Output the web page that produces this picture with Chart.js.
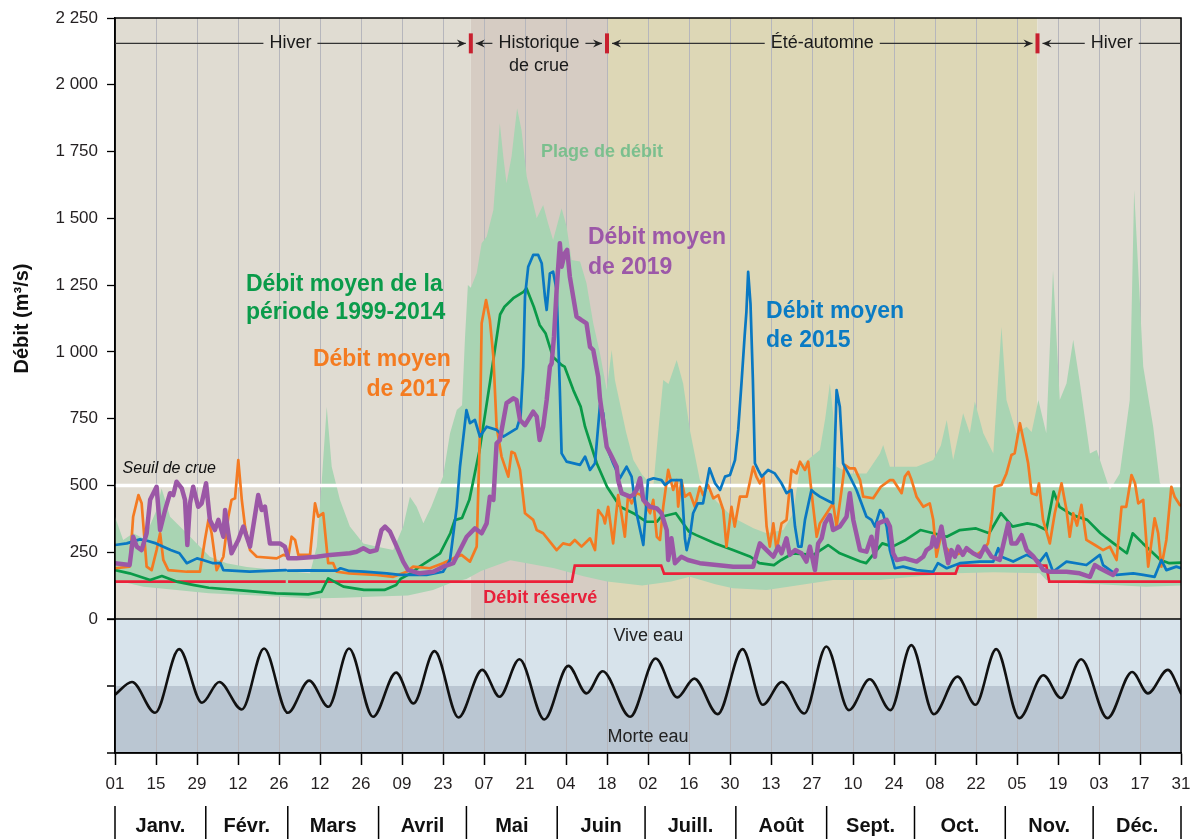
<!DOCTYPE html>
<html lang="fr">
<head>
<meta charset="utf-8">
<title>Débit</title>
<script src="https://cdn.jsdelivr.net/npm/chart.js@4.4.1/dist/chart.umd.min.js"></script>
<style>
  html, body { margin: 0; padding: 0; background: #fff; }
  canvas { display: block; }
</style>
</head>
<body>
<canvas id="debit" width="1192" height="839"></canvas>
<script>
// --- axes ---
const tickLabels = ['01','15','29','12','26','12','26','09','23','07','21','04','18','02','16','30','13','27','10','24','08','22','05','19','03','17','31'];
const tickDays = tickLabels.map((_, i) => i * 14);
const monthNames = ['Janv.','Févr.','Mars','Avril','Mai','Juin','Juill.','Août','Sept.','Oct.','Nov.','Déc.'];
const monthStarts = [0, 31, 59, 90, 120, 151, 181, 212, 243, 273, 304, 334, 365];
const yTicks = [0, 250, 500, 750, 1000, 1250, 1500, 1750, 2000, 2250];

// --- saisons ---
const seasonNames = [['Hiver'], ['Historique', 'de crue'], ['Été-automne'], ['Hiver']];
const seasonBounds = [0, 121.5, 168, 315, 364];

// --- séries [jour de l'année, m³/s] ---
const seuilCrue = [[0, 500], [364, 500]];

const debitReserve = [[0,140],[58.3,140],[58.7,null],[59.1,140],[156,140],[157,200],[186.5,200],[187.5,170],
  [287,170],[288,200],[318,200],[319,140],[364,140]];

const moyenne1999_2014 = [[0,183],[5,171],[12,146],[16,161],[21,140],[27,127],[32,117],[44,106],[55,96],[66,92],
  [70.5,102],[72.8,152],[78,121],[85,109],[92,109],[96,127],[97.5,150],[101,171],[104,196],[111,246],
  [114.5,321],[116,370],[118.5,378],[121,446],[124.5,633],[128,883],[131.5,1140],[133,1169],[136,1201],[139.5,1225],
  [140.5,1238],[143,1169],[145,1101],[147,1070],[149.5,982],[152.5,951],[153.5,945],[156.5,857],[159,795],[160.5,720],
  [164.5,583],[168,495],[172.5,420],[177,396],[181.5,364],[185,364],[186.5,383],[191.5,396],[196,327],[198.5,314],
  [205,283],[211,258],[217,233],[220,209],[225,202],[227.5,221],[231.5,246],[238.5,240],[243.5,277],[247.5,246],
  [254.5,215],[256.5,209],[262,283],[265.5,271],[270,296],[275,333],[279.5,321],[284,308],[288.5,333],[294,339],
  [298.5,321],[302.5,396],[306.5,346],[311.5,358],[314.5,352],[318,333],[320.5,477],[322.5,420],[327,389],[332,371],
  [336.5,321],[341,283],[345.5,246],[347.5,321],[351,283],[357,221],[360,209],[364,211]];

const moyenne2015 = [[0,277],[4,283],[8.5,298],[11,293],[14,283],[19,258],[22,246],[24.5,209],[28,227],[30,221],
  [33.5,209],[36,209],[37,183],[46,177],[52,180],[58.3,183],[58.7,null],[59.1,181],[66,182],[75.7,181],[77,190],
  [80,180],[85,177],[92.8,171],[97.3,165],[100.7,165],[106.4,165],[112,177],[114.4,221],[116.7,420],[117.8,570],
  [120,782],[121.2,733],[122.9,745],[124.6,683],[126.9,720],[130.3,708],[132.6,683],[137.2,714],[138.5,760],[139.4,945],
  [140,1207],[141.1,1319],[142.8,1363],[144.5,1363],[145.7,1332],[146.8,1207],[147.4,1157],[148.5,1294],[149.6,1300],
  [150.8,1232],[151.9,857],[152.5,620],[154.2,589],[158.8,577],[160.5,608],[162.2,558],[163.9,583],[165.6,801],
  [166.7,770],[167.9,645],[170.1,583],[172.4,527],[174.7,570],[176.4,533],[178.1,396],[180.4,277],[182,520],
  [183.9,527],[186.6,520],[187.8,502],[190,520],[193.4,520],[194.6,302],[195.2,258],[196.3,308],[197.4,396],[199,433],
  [200.8,433],[203,564],[204.9,508],[206.6,483],[208.3,533],[210,539],[211.7,595],[212.8,708],[214,895],[215,1060],
  [215.6,1150],[216.2,1300],[217,1180],[217.8,900],[218.5,583],[219.6,558],[220.8,533],[223,558],[225.3,545],
  [227.6,508],[229.3,471],[231,483],[232.2,346],[233.3,271],[234.4,271],[235.6,371],[237.8,483],[239,471],[240.7,458],
  [244.1,439],[245.2,433],[246.4,857],[247.5,795],[248.6,583],[250.4,545],[253.2,483],[256.6,383],[258.3,371],
  [259.5,346],[261.2,408],[262.2,396],[263.5,346],[264.6,258],[266.3,190],[269.1,196],[273.7,183],[279.4,177],[281,209],
  [284,190],[288.5,209],[295.3,215],[299.9,215],[301.6,265],[302.7,233],[306.7,215],[311.3,240],[315.8,215],[318,246],
  [320.3,177],[324.9,215],[331.7,202],[336.3,240],[337.4,202],[342,165],[347.7,171],[351.1,165],[355,158],[357.3,221],
  [359,183],[362.4,196],[364,190]];

const moyenne2017 = [[0,190],[5,196],[6.2,383],[8,464],[9.1,433],[10.8,196],[12.5,183],[14.2,258],[15.4,321],[16.5,221],
  [18.2,183],[24.5,177],[29,177],[30.7,296],[31.9,371],[33,321],[34.7,183],[37,233],[38.7,383],[39.8,446],[41,452],
  [42.1,595],[43.3,446],[44.4,346],[46.1,258],[48.4,233],[55.2,227],[57.5,240],[59.2,235],[60.3,308],[61.5,296],
  [62.6,240],[66.6,240],[68.3,433],[69.4,383],[71.1,396],[72.8,209],[74.5,209],[75.7,177],[80,171],[89.3,165],[95,158],
  [99.6,177],[101.8,196],[107.5,190],[112,209],[115.5,227],[118.3,240],[121.2,215],[123.5,271],[124.6,695],[125.2,1107],
  [126.7,1194],[128,1119],[129.2,982],[130.3,720],[132,608],[134.3,533],[135.4,626],[136.5,620],[138.3,558],[140,396],
  [142.8,371],[144,333],[146.2,321],[150.8,258],[153,283],[155.3,277],[157,296],[159.3,271],[162.2,302],[163.9,258],
  [165,408],[166.7,383],[167.3,358],[168.4,420],[170.1,283],[171.8,464],[172.9,396],[174.1,308],[175.2,464],[176.4,433],
  [178.1,471],[179.5,465],[181.5,420],[182.7,396],[183.8,446],[185,308],[186.1,296],[187.2,420],[188.9,558],[190.6,483],
  [191.8,520],[192.3,421],[193.4,520],[194.6,458],[196.3,471],[198,420],[199.7,495],[200.8,464],[202.5,502],[204.3,452],
  [206,464],[207.7,408],[208.8,271],[210.5,420],[211.6,346],[213.4,458],[215.7,458],[217.9,570],[219,533],[220.2,508],
  [221.4,533],[222.5,346],[223.6,271],[224.8,358],[225.9,258],[227.6,358],[229.3,371],[231,558],[232.7,545],[233.9,589],
  [235.6,558],[236.7,589],[238.4,420],[239.6,308],[240.7,358],[243,396],[245.2,433],[246.4,346],[248.1,483],[249.2,577],
  [250.9,564],[252.6,564],[254.4,520],[255.5,458],[258.9,452],[261.5,495],[264.6,520],[265.7,520],[268.6,471],
  [269.7,533],[270.9,551],[272,520],[273.7,458],[276,420],[278.2,433],[279.4,371],[280.5,233],[282.2,321],[283.4,271],
  [285,252],[287.3,240],[290.7,258],[294.2,240],[296.4,258],[298.1,283],[299.3,371],[300.4,495],[302.7,502],[304.4,545],
  [306.1,614],[307.2,620],[309,733],[310.7,645],[311.8,583],[313,471],[314.7,464],[315.5,508],[316.9,371],[319.2,283],
  [320.9,396],[323.2,508],[324.9,408],[326,308],[327.2,396],[328.5,350],[330,427],[331.7,296],[334.6,277],[337.4,258],
  [339.7,271],[342,221],[343.7,420],[345.3,420],[347.1,539],[348.3,508],[349.4,433],[351.1,446],[352.8,196],[355,377],
  [356.2,321],[357.3,196],[359,296],[360.7,495],[361.8,458],[363.6,427],[364,425]];

const moyenne2019 = [[0,209],[5,202],[6.2,308],[7.4,271],[9.1,258],[10.8,321],[12,446],[14.2,495],[15.4,333],[17.1,408],
  [18.8,471],[19.9,464],[21,514],[22.8,489],[23.9,446],[24.7,277],[25.6,433],[26.7,495],[28.4,420],[29.6,433],[31.1,508],
  [32.4,371],[34.1,333],[35.3,371],[37,308],[37.6,408],[38.7,321],[39.8,246],[42.1,296],[43.8,346],[46.1,271],[48.9,464],
  [50.1,408],[51.2,421],[52.9,283],[56.3,283],[58,271],[59.2,227],[62,227],[68.9,233],[73.4,240],[80.2,246],[82.5,252],
  [84.8,265],[87,252],[89.3,258],[91,333],[92.2,346],[93.9,327],[96.2,271],[98.4,215],[100.1,183],[104.1,171],
  [108.7,177],[112.1,196],[115.5,209],[117.8,258],[120.1,308],[122.9,339],[125.2,321],[126.9,358],[128,458],[129.2,446],
  [130.3,658],[131.4,670],[133.7,808],[136,826],[137.1,820],[138.3,745],[140,726],[142.8,776],[144,758],[145,670],
  [146.2,720],[147.4,820],[148.5,945],[149.1,957],[149.9,1057],[150.8,1232],[151.9,1407],[152.5,1319],[153.6,1369],
  [154.4,1382],[155.3,1282],[157.6,1132],[159.3,1119],[161,1107],[162.2,1019],[163.3,1007],[165,907],[165.6,826],
  [167.9,645],[169.6,608],[171.3,570],[171.8,520],[173,471],[175.8,458],[176.9,464],[178.1,483],[179.3,527],[180.4,446],
  [182.7,420],[185,414],[186.6,396],[188.4,333],[188.9,221],[190,302],[191.2,209],[193.4,233],[195.6,221],[199.7,209],
  [205.4,202],[211.1,196],[217.9,196],[220.2,283],[222.5,258],[224.8,233],[226.5,271],[227.6,246],[229.3,302],
  [230.4,240],[232.2,258],[234.4,246],[236.1,215],[237.3,271],[239,183],[240.1,283],[241.3,302],[242.4,358],[244.1,389],
  [245.2,333],[247.5,346],[249.8,383],[250.9,471],[252.1,371],[254.4,258],[256.6,252],[258.3,308],[259.5,233],
  [260.6,358],[263.5,371],[264.6,346],[265.7,246],[266.9,221],[269.7,227],[273.7,215],[276,233],[277.1,258],[278.8,271],
  [279.4,308],[280.5,271],[282.2,346],[283.4,271],[284.5,209],[285.6,258],[286.8,233],[287.9,271],[289.5,240],
  [290.8,265],[293,246],[295.3,233],[297,271],[299.3,233],[302.1,221],[305,358],[306.1,283],[307.8,283],[309.6,314],
  [311.3,258],[313.5,235],[315.8,202],[317,183],[319.2,177],[324.9,177],[329.4,171],[332.9,158],[334.6,202],[336.3,190],
  [338.6,177],[340.8,165],[342,183]];

const plageMax = [[0,383],[2.8,296],[6.2,321],[10,300],[14.2,408],[15.9,489],[17,450],[18.8,383],[24.5,321],[27.9,283],
  [32.4,233],[38.1,209],[45,195],[55,183],[66.6,171],[68.9,271],[70.5,500],[72.3,795],[74,570],[76.8,446],[80.2,346],
  [84.8,283],[90,270],[95,258],[98.4,346],[100.7,458],[103,420],[105.3,358],[108,420],[112,533],[114.4,695],[116.7,782],
  [118.5,800],[119.5,1050],[120.5,1250],[121.5,1240],[123.5,1294],[125.2,1407],[126.9,1431],[129.2,1531],[131.4,1856],
  [132.6,1731],[133.7,1631],[135.4,1731],[137.3,1912],[138.8,1831],[140.6,1656],[142.8,1556],[144,1500],[146.2,1550],
  [147.9,1481],[149.6,1419],[152.5,1538],[154.2,1469],[155.9,1344],[158.8,1338],[161,1257],[163.3,1107],[165.6,995],
  [167.9,857],[169.6,1007],[170.7,895],[172.4,808],[174.5,700],[177,595],[180,540],[183.8,495],[185.5,700],[187.2,895],
  [189,880],[191.8,970],[194,882],[196.3,708],[199.7,520],[205.4,440],[211,380],[218,340],[222.5,321],[228.2,333],
  [231.6,396],[233.9,570],[237,600],[240.7,633],[242.5,750],[244.1,882],[245.2,770],[246.4,570],[251,545],[256.6,545],
  [261.2,620],[262.3,651],[264.6,570],[268,570],[273.7,570],[279.4,595],[282,650],[284,745],[286.2,595],[289.6,770],
  [291.9,695],[293.6,814],[296.5,695],[299.9,620],[302.7,1094],[304.4,820],[307.8,695],[311.3,720],[313,700],[315.3,820],
  [318,695],[320.3,1307],[322.6,820],[324.9,882],[327.2,1045],[329.5,882],[332.9,620],[335.2,633],[339.7,483],[343.1,545],
  [346.5,820],[348,1606],[351.1,945],[354.5,720],[356.8,508],[359,495],[362.4,495],[364,500]];

const plageMin = [[0,146],[9.7,121],[21,109],[32,96],[45,90],[55,84],[66.6,77],[78,80],[89.3,84],[100,88],[108.6,109],
  [114.4,134],[120,150],[125,180],[135,220],[150,190],[160,160],[168,140],[180,125],[190,140],[196.3,158],[205,130],
  [211,115],[222.5,109],[233.9,127],[245.2,146],[256.6,146],[261,146],[272.6,158],[287,171],[300,175],[315.8,171],
  [318,146],[329.5,134],[340.8,127],[352,121],[364,125]];

// marée : coefficient relatif (-1 morte eau, +1 vive eau)
const maree = [[0,-0.13],[5.8,0.06],[13.7,-0.40],[21.9,0.55],[29.7,-0.25],[35.6,0.06],[43.3,-0.35],[50.9,0.56],
  [59,-0.40],[66.3,0.08],[72.9,-0.31],[79.9,0.56],[88.1,-0.46],[96,0.20],[101.9,-0.26],[109.1,0.52],[117.3,-0.47],
  [125.4,0.24],[131.3,-0.16],[138.1,0.40],[146.6,-0.50],[154.8,0.30],[161,-0.11],[166.5,0.22],[175.9,-0.46],
  [184.6,0.41],[192,-0.17],[197.8,0.11],[205.8,-0.42],[214.3,0.55],[221.2,-0.28],[227.7,0.06],[235.4,-0.41],
  [242.9,0.59],[250.6,-0.36],[257.7,0.10],[264.8,-0.36],[271.9,0.61],[279.6,-0.42],[287.7,0.14],[293.8,-0.28],
  [300.9,0.55],[308.8,-0.48],[317,0.16],[323,-0.18],[329.9,0.40],[338.9,-0.48],[347.3,0.21],[352.7,-0.11],
  [359.5,0.24],[364,-0.11]];

// --- mise en page ---
const FONT = '"Liberation Sans", Arial, Helvetica, sans-serif';
const UPPER_PX = 601, LOWER_PX = 134;
const yMin = -2250 * LOWER_PX / UPPER_PX;
const tMax = -1 + 2 * (UPPER_PX + LOWER_PX) / LOWER_PX;

const seasonColors = ['#e0dcd2', '#d6ccc3', '#ddd7b6', '#e0dcd2'];
const seasonLineVal = 2155;

const labels = [
  { lines: ['Débit moyen de la', 'période 1999-2014'], day: 44.7, val: 1250, align: 'left', color: '#0a9b4a', step: 28 },
  { lines: ['Débit moyen', 'de 2017'], day: 114.7, val: 970, align: 'right', color: '#f47b20', step: 30 },
  { lines: ['Débit moyen', 'de 2019'], day: 161.5, val: 1426, align: 'left', color: '#9c58a8', step: 30 },
  { lines: ['Débit moyen', 'de 2015'], day: 222.3, val: 1149, align: 'left', color: '#0a7bc4', step: 29 }
];

const pts = arr => arr.map(([d, v]) => ({ x: d, y: v }));
const fmt = v => String(v).replace(/\B(?=(\d{3})+(?!\d))/g, ' ');

function text(ctx, s, x, y, font, color, align) {
  ctx.font = font;
  ctx.fillStyle = color;
  ctx.textAlign = align || 'center';
  ctx.textBaseline = 'middle';
  ctx.fillText(s, x, y);
}

function arrowHead(ctx, x, y, dir) {
  // dir = -1 pointe vers la gauche, +1 vers la droite
  ctx.beginPath();
  ctx.moveTo(x, y);
  ctx.lineTo(x - dir * 9, y - 4);
  ctx.lineTo(x - dir * 6, y);
  ctx.lineTo(x - dir * 9, y + 4);
  ctx.closePath();
  ctx.fill();
}

const decor = {
  id: 'decor',
  beforeDraw(chart) {
    const { ctx, chartArea: a, scales: { x, y, yT } } = chart;
    const y0 = y.getPixelForValue(0);
    ctx.save();
    for (let i = 0; i < seasonColors.length; i++) {
      const x0 = x.getPixelForValue(seasonBounds[i]);
      const x1 = x.getPixelForValue(seasonBounds[i + 1]);
      ctx.fillStyle = seasonColors[i];
      ctx.fillRect(x0, a.top, x1 - x0, y0 - a.top);
    }
    const ym = yT.getPixelForValue(0);
    ctx.fillStyle = '#d7e3eb';
    ctx.fillRect(a.left, y0, a.right - a.left, ym - y0);
    ctx.fillStyle = '#bac6d2';
    ctx.fillRect(a.left, ym, a.right - a.left, a.bottom - ym);
    ctx.restore();
  },
  afterDatasetsDraw(chart) {
    const { ctx, chartArea: a, scales: { x, y, yT } } = chart;
    ctx.save();

    // cadre et séparation des deux panneaux
    const y0 = y.getPixelForValue(0);
    ctx.strokeStyle = '#000';
    ctx.lineWidth = 1.5;
    ctx.strokeRect(a.left, a.top, a.right - a.left, a.bottom - a.top);
    ctx.beginPath();
    ctx.moveTo(a.left - 8, y0);
    ctx.lineTo(a.right, y0);
    ctx.stroke();
    ctx.lineWidth = 1.3;
    ctx.beginPath();
    [0, -1].forEach(v => {
      const p = yT.getPixelForValue(v);
      ctx.moveTo(a.left - 8, p);
      ctx.lineTo(a.left, p);
    });
    ctx.stroke();

    // flèches des saisons
    const ly = y.getPixelForValue(seasonLineVal);
    for (let i = 0; i < seasonNames.length; i++) {
      let x0 = x.getPixelForValue(seasonBounds[i]);
      let x1 = x.getPixelForValue(seasonBounds[i + 1]);
      const hasL = i > 0, hasR = i < seasonNames.length - 1;
      if (hasL) x0 += 5;
      if (hasR) x1 -= 5;
      const cx = (x0 + x1) / 2;
      ctx.font = '18px ' + FONT;
      const w = ctx.measureText(seasonNames[i][0]).width;
      ctx.strokeStyle = '#333';
      ctx.fillStyle = '#222';
      ctx.lineWidth = 1.4;
      ctx.beginPath();
      ctx.moveTo(x0, ly);
      ctx.lineTo(cx - w / 2 - 6, ly);
      ctx.moveTo(cx + w / 2 + 6, ly);
      ctx.lineTo(x1, ly);
      ctx.stroke();
      if (hasL) arrowHead(ctx, x0, ly, -1);
      if (hasR) arrowHead(ctx, x1, ly, 1);
      seasonNames[i].forEach((s, k) => text(ctx, s, cx, ly + k * 23, '18px ' + FONT, '#1a1a1a'));
    }
    ctx.fillStyle = '#c8202f';
    for (let i = 1; i < seasonBounds.length - 1; i++) {
      const px = x.getPixelForValue(seasonBounds[i]);
      ctx.fillRect(px - 2, ly - 10, 4, 20);
    }

    // étiquettes
    labels.forEach(l => {
      const px = x.getPixelForValue(l.day), py = y.getPixelForValue(l.val);
      l.lines.forEach((s, k) => text(ctx, s, px, py + k * l.step, 'bold 23px ' + FONT, l.color, l.align));
    });
    text(ctx, 'Plage de débit', x.getPixelForValue(166.3), y.getPixelForValue(1748), 'bold 18px ' + FONT, '#7bbf8e');
    text(ctx, 'Débit réservé', x.getPixelForValue(145.2), y.getPixelForValue(77), 'bold 18px ' + FONT, '#e8203a');
    text(ctx, 'Seuil de crue', x.getPixelForValue(2.6), y.getPixelForValue(565), 'italic 16px ' + FONT, '#111', 'left');
    text(ctx, 'Vive eau', x.getPixelForValue(182.1), yT.getPixelForValue(0.74), '18px ' + FONT, '#222');
    text(ctx, 'Morte eau', x.getPixelForValue(182), yT.getPixelForValue(-0.76), '18px ' + FONT, '#222');

    // titre de l'axe vertical
    ctx.translate(22, (y.getPixelForValue(0) + y.getPixelForValue(2250)) / 2);
    ctx.rotate(-Math.PI / 2);
    text(ctx, 'Débit (m³/s)', 0, 0, 'bold 20px ' + FONT, '#111');
    ctx.restore();
  },
  afterDraw(chart) {
    const { ctx, scales: { x } } = chart;
    ctx.save();
    ctx.strokeStyle = '#000';
    ctx.lineWidth = 1.5;
    const xs = monthStarts.map(d => x.getPixelForValue(Math.min(d, x.max)));
    ctx.beginPath();
    xs.forEach(px => { ctx.moveTo(px, 806); ctx.lineTo(px, 839); });
    ctx.stroke();
    monthNames.forEach((m, i) => text(ctx, m, (xs[i] + xs[i + 1]) / 2, 826, 'bold 20px ' + FONT, '#111'));
    ctx.restore();
  }
};

Chart.defaults.font.family = FONT;
Chart.defaults.color = '#231f20';

const line = (data, color, width, extra) => Object.assign({
  data: pts(data), borderColor: color, borderWidth: width, pointRadius: 0,
  borderJoinStyle: 'round', borderCapStyle: 'round', fill: false, yAxisID: 'y'
}, extra || {});

new Chart(document.getElementById('debit'), {
  type: 'line',
  data: {
    datasets: [
      line(moyenne2019, '#9b57a6', 4.5),
      line(moyenne2015, '#0a78c2', 2.7),
      line(moyenne2017, '#f47a22', 2.7),
      line(moyenne1999_2014, '#0a9a48', 2.7),
      line(debitReserve, '#ec2039', 2.7, { borderJoinStyle: 'miter', borderCapStyle: 'butt' }),
      line(seuilCrue, '#ffffff', 3.5, { borderCapStyle: 'butt' }),
      line(plageMax, 'transparent', 0, { fill: '+1', backgroundColor: '#a9d4b3' }),
      line(plageMin, 'transparent', 0),
      line(maree, '#111', 2.6, { yAxisID: 'yT', cubicInterpolationMode: 'monotone' })
    ]
  },
  options: {
    responsive: false,
    animation: false,
    devicePixelRatio: 1,
    layout: { padding: { left: 0, top: 18, right: 11, bottom: 0 } },
    plugins: { legend: { display: false }, tooltip: { enabled: false } },
    scales: {
      x: {
        type: 'linear', min: 0, max: 364,
        afterBuildTicks: s => { s.ticks = tickDays.map(v => ({ value: v })); },
        afterFit: s => { s.height = 86; s.paddingLeft = 0; s.paddingRight = 0; },
        ticks: {
          autoSkip: false, maxRotation: 0, padding: 9, font: { size: 17 },
          callback: (v, i) => tickLabels[i]
        },
        grid: { color: '#b6b6bc', lineWidth: 1, tickLength: 12, tickColor: '#000', tickWidth: 1.5 },
        border: { color: '#000', width: 1.5 }
      },
      y: {
        min: yMin, max: 2250,
        afterBuildTicks: s => { s.ticks = yTicks.map(v => ({ value: v })); },
        afterFit: s => { s.width = 115; s.paddingTop = 0; s.paddingBottom = 0; },
        ticks: { autoSkip: false, padding: 9, font: { size: 17 }, callback: v => fmt(v) },
        grid: { drawOnChartArea: false, tickLength: 8, tickColor: '#000', tickWidth: 1.3 },
        border: { color: '#000', width: 1.5 }
      },
      yT: { display: false, min: -1, max: tMax }
    }
  },
  plugins: [decor]
});
</script>
</body>
</html>
